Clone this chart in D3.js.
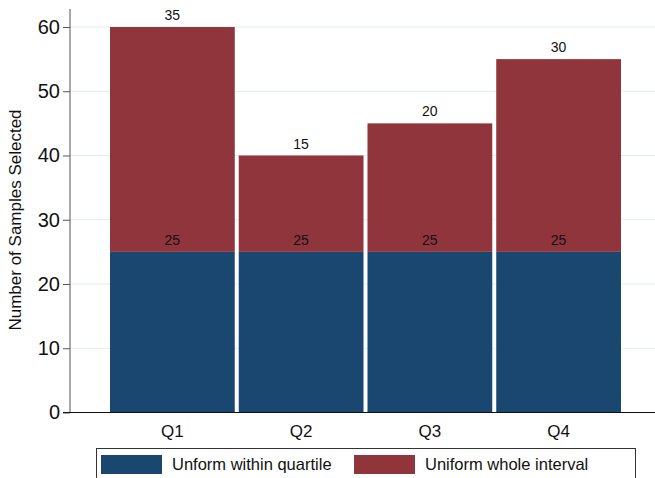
<!DOCTYPE html>
<html><head><meta charset="utf-8">
<script src="https://cdn.jsdelivr.net/npm/d3@7"></script>
<style>body{margin:0;background:#fff}svg{display:block;font-family:"Liberation Sans",Arial,sans-serif}</style>
</head><body>
<script>
const categories = ["Q1","Q2","Q3","Q4"];
const withinQuartile = [25,25,25,25];
const wholeInterval = [35,15,20,30];
const yTicks = [0,10,20,30,40,50,60];
const seriesNames = ["Unform within quartile","Uniform whole interval"];
const colors = ["#1a476f","#90353b"];

const W=655,H=478;
const svg=d3.select("body").append("svg").attr("width",W).attr("height",H);
const x=d3.scaleBand().domain(categories).range([110,621]).paddingInner(0.031).paddingOuter(0.0);
const y=d3.scaleLinear().domain([0,60]).range([412.5,27]);

// gridlines
svg.append("g").selectAll("line").data(yTicks.slice(1)).join("line")
 .attr("x1",70).attr("x2",W).attr("y1",d=>y(d)).attr("y2",d=>y(d))
 .attr("stroke","#e2ebed").attr("stroke-width",1);

const data=categories.map((c,i)=>({c,a:withinQuartile[i],b:wholeInterval[i]}));
const g=svg.append("g");
g.selectAll(".ba").data(data).join("rect")
 .attr("x",d=>x(d.c)).attr("width",x.bandwidth())
 .attr("y",d=>y(d.a)).attr("height",d=>y(0)-y(d.a)).attr("fill",colors[0]);
g.selectAll(".bb").data(data).join("rect")
 .attr("x",d=>x(d.c)).attr("width",x.bandwidth())
 .attr("y",d=>y(d.a+d.b)).attr("height",d=>y(d.a)-y(d.a+d.b)).attr("fill",colors[1]);

// value labels
g.selectAll(".la").data(data).join("text")
 .attr("x",d=>x(d.c)+x.bandwidth()/2).attr("y",d=>y(d.a)-7)
 .attr("text-anchor","middle").attr("font-size",14).attr("fill","#111").text(d=>d.a);
g.selectAll(".lb").data(data).join("text")
 .attr("x",d=>x(d.c)+x.bandwidth()/2).attr("y",d=>y(d.a+d.b)-7)
 .attr("text-anchor","middle").attr("font-size",14).attr("fill","#111").text(d=>d.b);

// axes
const ya=svg.append("g").attr("transform","translate(70,0)")
 .call(d3.axisLeft(y).tickValues(yTicks).tickSize(7).tickPadding(3));
ya.select(".domain").remove();
ya.selectAll(".tick line").attr("stroke","#555");
ya.selectAll("text").attr("font-size",20).attr("fill","#111").attr("font-family","'Liberation Sans',Arial,sans-serif");
svg.append("line").attr("x1",70).attr("x2",70).attr("y1",9).attr("y2",y(0)).attr("stroke","#555");
svg.append("line").attr("x1",63).attr("x2",W).attr("y1",y(0)).attr("y2",y(0)).attr("stroke","#111");

const xa=svg.append("g").attr("transform",`translate(0,${y(0)})`)
 .call(d3.axisBottom(x).tickSize(0).tickPadding(12));
xa.select(".domain").remove();
xa.selectAll("text").attr("font-size",17).attr("fill","#111").attr("font-family","'Liberation Sans',Arial,sans-serif");

svg.append("text").attr("transform","translate(21,220) rotate(-90)")
 .attr("text-anchor","middle").attr("font-size",17).attr("fill","#111").text("Number of Samples Selected");

// legend
const lg=svg.append("g");
lg.append("rect").attr("x",96.5).attr("y",448.5).attr("width",539).attr("height",40)
 .attr("fill","#fff").attr("stroke","#333");
const lx=[101,354];
seriesNames.forEach((n,i)=>{
 lg.append("rect").attr("x",lx[i]).attr("y",455).attr("width",61).attr("height",19).attr("fill",colors[i]);
 lg.append("text").attr("x",lx[i]+71).attr("y",470).attr("font-size",16.5).attr("fill","#111").text(n);
});
</script>
</body></html>
